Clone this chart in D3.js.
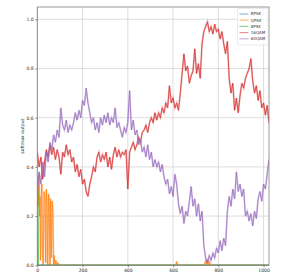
<!DOCTYPE html>
<html>
<head>
<meta charset="utf-8">
<script src="https://cdn.jsdelivr.net/npm/d3@7"></script>
<style>
  body { margin: 0; background: #fff; }
  text { font-family: "DejaVu Sans", sans-serif; }
</style>
</head>
<body>
<svg id="chart" width="299" height="275"></svg>
<script>
'use strict';
// series sampled every 8 steps
var step = 8;
var labels = ['BPSK', 'QPSK', '8PSK', '16QAM', '64QAM'];
var colors = ['#1f77b4', '#ff7f0e', '#2ca02c', '#d62728', '#9467bd'];

var bpskX = [0, 1024];
var bpskY = [0.0, 0.0];

var qpskX = [0, 2, 4, 6, 8, 10, 12, 14, 17, 20, 23, 26, 30, 34, 37, 40, 43, 46, 50, 53, 56, 59, 62, 66, 69, 72, 75, 78, 82, 86, 90, 100,
             600, 612, 616, 620, 630, 738, 744, 748, 752, 756, 760, 766, 780, 1024];
var qpskY = [0.32, 0.36, 0.24, 0.30, 0.37, 0.20, 0.28, 0.02, 0.26, 0.33, 0.05, 0.0, 0.30, 0.27, 0.01, 0.31, 0.25, 0.0, 0.29, 0.24, 0.0, 0.27, 0.03, 0.26, 0.22, 0.0, 0.04, 0.0, 0.02, 0.0, 0.01, 0.0,
             0.0, 0.0, 0.015, 0.0, 0.0, 0.0, 0.02, 0.005, 0.025, 0.0, 0.015, 0.0, 0.0, 0.0];

var psk8X = [0, 2, 4, 1024];
var psk8Y = [0.32, 0.30, 0.0, 0.0];

var qam16 = [0.46, 0.40, 0.44, 0.35, 0.42, 0.47, 0.44, 0.49, 0.45, 0.48, 0.43, 0.47, 0.44, 0.37, 0.46, 0.44,
             0.49, 0.45, 0.47, 0.42, 0.44, 0.38, 0.41, 0.36, 0.39, 0.33, 0.35, 0.30, 0.28, 0.33, 0.36, 0.40,
             0.38, 0.44, 0.46, 0.42, 0.45, 0.43, 0.46, 0.40, 0.44, 0.39, 0.45, 0.48, 0.44, 0.47, 0.44, 0.46,
             0.45, 0.47, 0.31, 0.46, 0.48, 0.50, 0.47, 0.49, 0.52, 0.50, 0.54, 0.55, 0.57, 0.54, 0.58, 0.60,
             0.58, 0.62, 0.59, 0.62, 0.60, 0.64, 0.62, 0.66, 0.64, 0.73, 0.66, 0.68, 0.64, 0.66, 0.63, 0.70,
             0.78, 0.86, 0.79, 0.81, 0.74, 0.77, 0.79, 0.88, 0.78, 0.82, 0.76, 0.90, 0.95, 0.97, 0.99, 0.95,
             0.97, 0.94, 0.98, 0.95, 0.96, 0.92, 0.95, 0.90, 0.86, 0.91, 0.76, 0.70, 0.74, 0.63, 0.68, 0.62,
             0.69, 0.74, 0.72, 0.76, 0.78, 0.80, 0.84, 0.75, 0.70, 0.73, 0.67, 0.71, 0.64, 0.66, 0.61, 0.65,
             0.58];
var qam64 = [0.30, 0.38, 0.33, 0.42, 0.36, 0.46, 0.42, 0.50, 0.47, 0.53, 0.50, 0.55, 0.52, 0.64, 0.57, 0.55,
             0.59, 0.54, 0.57, 0.55, 0.58, 0.62, 0.59, 0.63, 0.60, 0.67, 0.65, 0.72, 0.66, 0.62, 0.58, 0.60,
             0.55, 0.58, 0.54, 0.60, 0.57, 0.61, 0.58, 0.62, 0.57, 0.60, 0.58, 0.64, 0.56, 0.58, 0.55, 0.52,
             0.56, 0.54, 0.58, 0.71, 0.55, 0.59, 0.53, 0.55, 0.49, 0.51, 0.46, 0.48, 0.44, 0.49, 0.43, 0.46,
             0.40, 0.43, 0.40, 0.42, 0.38, 0.41, 0.36, 0.33, 0.35, 0.29, 0.32, 0.28, 0.37, 0.33, 0.25, 0.21,
             0.24, 0.17, 0.22, 0.20, 0.26, 0.32, 0.24, 0.27, 0.20, 0.25, 0.18, 0.22, 0.08, 0.03, 0.01, 0.04,
             0.02, 0.05, 0.03, 0.07, 0.05, 0.10, 0.06, 0.11, 0.08, 0.22, 0.28, 0.24, 0.31, 0.27, 0.38, 0.30,
             0.33, 0.28, 0.31, 0.20, 0.22, 0.18, 0.21, 0.16, 0.22, 0.19, 0.27, 0.30, 0.26, 0.33, 0.31, 0.37,
             0.43];
var xTicks = [0, 200, 400, 600, 800, 1000];
var yTicks = [0.0, 0.2, 0.4, 0.6, 0.8, 1.0];

var pLeft = 37.3, pRight = 269, pTop = 7, pBottom = 265.3;
var x = d3.scaleLinear().domain([0, 1024]).range([pLeft, pRight]);
var y = d3.scaleLinear().domain([0, 1.05]).range([pBottom, pTop]);

function pairs(xs, ys){
    return ys.map(function(v, i){ return [xs[i], v]; });
}
function gridded(ys){
    return ys.map(function(v, i){ return [i*step, v]; });
}
var series = [pairs(bpskX, bpskY), pairs(qpskX, qpskY), pairs(psk8X, psk8Y), gridded(qam16), gridded(qam64)];

var svg = d3.select('#chart');
svg.append('rect').attr('width', 299).attr('height', 275).attr('fill', '#fff');

// grid
svg.append('g').selectAll('line').data(xTicks).enter().append('line')
    .attr('x1', function(d){ return x(d); }).attr('x2', function(d){ return x(d); })
    .attr('y1', pTop).attr('y2', pBottom)
    .attr('stroke', '#d4d4d4').attr('stroke-width', 0.8);
svg.append('g').selectAll('line').data(yTicks).enter().append('line')
    .attr('y1', function(d){ return y(d); }).attr('y2', function(d){ return y(d); })
    .attr('x1', pLeft).attr('x2', pRight)
    .attr('stroke', '#d4d4d4').attr('stroke-width', 0.8);

svg.append('clipPath').attr('id', 'clip').append('rect')
    .attr('x', pLeft).attr('y', pTop).attr('width', pRight-pLeft).attr('height', pBottom-pTop);

var line = d3.line().x(function(d){ return x(d[0]); }).y(function(d){ return y(d[1]); });
var plot = svg.append('g').attr('clip-path', 'url(#clip)');
series.forEach(function(s, i){
    plot.append('path').attr('d', line(s)).attr('fill', 'none')
        .attr('stroke', colors[i]).attr('stroke-opacity', 0.35).attr('stroke-width', 1.8);
    plot.append('path').attr('d', line(s)).attr('fill', 'none')
        .attr('stroke', colors[i]).attr('stroke-width', 0.7);
});

// frame
svg.append('rect').attr('x', pLeft).attr('y', pTop).attr('width', pRight-pLeft).attr('height', pBottom-pTop)
    .attr('fill', 'none').attr('stroke', '#808080').attr('stroke-width', 0.8);

// axes
var xAxis = svg.append('g').attr('transform', 'translate(0,' + pBottom + ')')
    .call(d3.axisBottom(x).tickValues(xTicks).tickSize(2).tickPadding(1.5).tickFormat(d3.format('d')));
var yAxis = svg.append('g').attr('transform', 'translate(' + pLeft + ',0)')
    .call(d3.axisLeft(y).tickValues(yTicks).tickSize(2).tickPadding(1.5).tickFormat(d3.format('.1f')));
[xAxis, yAxis].forEach(function(a){
    a.select('.domain').remove();
    a.selectAll('line').attr('stroke', '#444').attr('stroke-width', 0.6);
    a.selectAll('text').attr('font-size', '4.6px').attr('fill', '#333')
        .style('font-family', '"DejaVu Sans", sans-serif');
});

svg.append('text').text('softmax output')
    .attr('transform', 'translate(24,' + ((pTop+pBottom)/2) + ') rotate(-90)')
    .attr('text-anchor', 'middle').attr('font-size', '4.6px').attr('fill', '#222');

// legend
var lg = svg.append('g').attr('transform', 'translate(237.5,8.5)');
lg.append('rect').attr('width', 30.5).attr('height', 36.5).attr('rx', 1)
    .attr('fill', '#fff').attr('fill-opacity', 0.8).attr('stroke', '#ddd').attr('stroke-width', 0.6);
labels.forEach(function(l, i){
    var yy = 5.5 + i*6.2;
    lg.append('line').attr('x1', 2).attr('x2', 11).attr('y1', yy).attr('y2', yy)
        .attr('stroke', colors[i]).attr('stroke-opacity', 0.5).attr('stroke-width', 1.2);
    lg.append('text').text(l).attr('x', 13.3).attr('y', yy + 1.4)
        .attr('font-size', '4px').attr('fill', '#333');
});
</script>
</body>
</html>
